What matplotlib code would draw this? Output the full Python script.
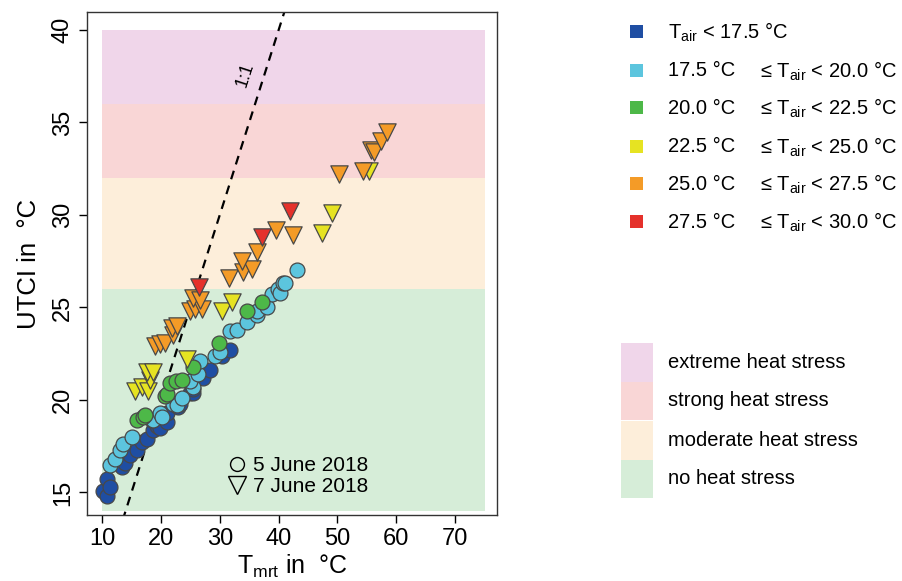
import matplotlib
matplotlib.use("Agg")
import matplotlib.pyplot as plt
from matplotlib.patches import Rectangle
from matplotlib.lines import Line2D

plt.rcParams['font.family'] = ['Liberation Sans', 'DejaVu Sans']
plt.rcParams['mathtext.fontset'] = 'custom'
plt.rcParams['mathtext.rm'] = 'Liberation Sans'
plt.rcParams['mathtext.it'] = 'Liberation Sans:italic'

# ---------------- data ----------------
# 5 June 2018 (circles)
jun5_cold_x = [10.2, 10.8, 10.8, 11.4, 13.4, 13.9, 14.8, 15.9, 16.8, 17.6, 18.7, 19.4, 19.9, 21.0, 21.0,
               22.9, 23.3, 24.9, 25.5, 25.5, 27.2, 28.4, 30.4, 31.8]
jun5_cold_y = [15.1, 15.7, 14.8, 15.3, 16.4, 16.6, 17.0, 17.3, 17.7, 17.9, 18.4, 18.6, 18.5, 18.8, 19.3,
               19.6, 19.8, 20.4, 20.4, 20.6, 21.2, 21.6, 22.4, 22.7]
jun5_cool_x = [11.4, 12.2, 13.1, 13.6, 15.1, 18.5, 18.7, 19.9, 20.2, 22.1, 22.7, 23.6, 25.5, 25.0, 26.3,
               26.7, 29.2, 30.0, 31.8, 32.9, 34.6, 36.3, 36.3, 38.0, 38.9, 39.9, 40.3, 40.8, 41.1, 43.1]
jun5_cool_y = [16.5, 16.8, 17.3, 17.6, 18.0, 18.9, 18.9, 19.3, 19.1, 19.8, 19.7, 20.1, 20.7, 21.0, 21.4,
               22.1, 22.4, 22.6, 23.7, 23.8, 24.2, 24.6, 24.8, 25.0, 25.7, 26.0, 25.8, 26.3, 26.3, 27.0]
jun5_mild_x = [15.9, 17.0, 17.3, 20.7, 21.0, 21.6, 22.5, 23.6, 25.5, 29.9, 34.6, 37.2]
jun5_mild_y = [18.9, 19.1, 19.2, 20.2, 20.3, 20.9, 21.0, 21.1, 21.8, 23.1, 24.8, 25.3]

# 7 June 2018 (triangles)
jun7_warm_x = [15.6, 16.8, 17.8, 18.2, 17.6, 18.7, 24.4, 30.4, 32.1, 47.4, 49.1, 55.4]
jun7_warm_y = [20.5, 20.7, 20.5, 21.1, 21.5, 21.5, 22.2, 24.8, 25.3, 29.0, 30.1, 32.4]
jun7_hot_x = [19.0, 19.9, 20.7, 22.1, 21.9, 22.7, 25.0, 25.8, 27.0, 25.5, 26.7, 31.6, 34.0, 35.5, 33.8,
              36.3, 39.6, 42.5, 50.3, 54.4, 55.7, 56.2, 57.4, 58.4]
jun7_hot_y = [22.9, 23.0, 23.1, 23.5, 23.9, 24.0, 24.8, 24.9, 24.9, 25.5, 25.4, 26.6, 26.9, 27.1, 27.5,
              28.0, 29.2, 28.9, 32.2, 32.4, 33.5, 33.4, 34.0, 34.5]
jun7_vhot_x = [26.5, 37.2, 42.0]
jun7_vhot_y = [26.1, 28.8, 30.2]

# categories / colours
tair_colors = ['#1f4ea3', '#5cc5de', '#4db848', '#e6e322', '#f49b27', '#e5312b']
tair_left = [None, '17.5 °C', '20.0 °C', '22.5 °C', '25.0 °C', '27.5 °C']
tair_right = ['T$_{\\mathrm{air}}$ < 17.5 °C', '≤ T$_{\\mathrm{air}}$ < 20.0 °C',
              '≤ T$_{\\mathrm{air}}$ < 22.5 °C', '≤ T$_{\\mathrm{air}}$ < 25.0 °C',
              '≤ T$_{\\mathrm{air}}$ < 27.5 °C', '≤ T$_{\\mathrm{air}}$ < 30.0 °C']

stress_labels = ['no heat stress', 'moderate heat stress', 'strong heat stress', 'extreme heat stress']
stress_lo = [14.0, 26, 32, 36]
stress_hi = [26, 32, 36, 40]
stress_colors = ['#d6edd8', '#fdeeda', '#f9d6d6', '#f0d6ea']
band_x = [10, 75]

# ---------------- figure ----------------
fig = plt.figure(figsize=(9.02, 5.81), dpi=100)
ax = fig.add_axes([0.0965, 0.1136, 0.4545, 0.8657])

for lo, hi, c in zip(stress_lo, stress_hi, stress_colors):
    ax.fill_between(band_x, [lo, lo], [hi, hi], color=c, lw=0, zorder=0)

# 1:1 line
ax.plot([13.5, 42], [13.5, 42], ls=(0, (4, 3)), color='black', lw=1.6, zorder=1)
ax.text(34.3, 37.6, '1:1', rotation=72, fontsize=13, ha='center', va='center')

ms = 115
ec = '#484848'
for xs, ys, c in [(jun5_cold_x, jun5_cold_y, tair_colors[0]),
                  (jun5_cool_x, jun5_cool_y, tair_colors[1]),
                  (jun5_mild_x, jun5_mild_y, tair_colors[2])]:
    ax.scatter(xs, ys, s=ms, c=c, edgecolors=ec, linewidths=0.9, marker='o', zorder=3)
for xs, ys, c in [(jun7_warm_x, jun7_warm_y, tair_colors[3]),
                  (jun7_hot_x, jun7_hot_y, tair_colors[4]),
                  (jun7_vhot_x, jun7_vhot_y, tair_colors[5])]:
    ax.scatter(xs, ys, s=155, c=c, edgecolors=ec, linewidths=0.9, marker='v', zorder=3)

ax.set_xlim(7.45, 77.1)
ax.set_ylim(13.78, 40.97)
ax.set_xticks([10, 20, 30, 40, 50, 60, 70])
ax.set_yticks([15, 20, 25, 30, 35, 40])
ax.tick_params(axis='both', direction='out', length=6, width=1, labelsize=17)
for lab in ax.get_yticklabels():
    lab.set_rotation(90)
    lab.set_va('center')
for s in ax.spines.values():
    s.set_linewidth(1.0)
    s.set_color('#333333')

ax.set_xlabel('T$_{\\mathrm{mrt}}$ in  °C', fontsize=18, labelpad=2)
ax.set_ylabel('UTCI in  °C', fontsize=18.5, labelpad=8)

# date legend inside plot
date_handles = [Line2D([], [], marker='o', ls='none', mfc='none', mec='black', ms=10, mew=1),
                Line2D([], [], marker='v', ls='none', mfc='none', mec='black', ms=13, mew=1)]
ax.legend(date_handles, ['5 June 2018', '7 June 2018'], loc='lower left',
          bbox_to_anchor=(0.29, 0.0), frameon=False, fontsize=15,
          handletextpad=0.15, labelspacing=0.1, handlelength=1.2)

# Tair legend (figure coordinates)
W, H = 902, 581
rows_y = [32, 71, 108, 147, 184, 222]
for i, yy in enumerate(rows_y):
    fig.patches.append(Rectangle((630 / W, 1 - (yy + 6) / H), 13 / W, 13 / H,
                                 transform=fig.transFigure, color=tair_colors[i], lw=0))
    if tair_left[i] is None:
        fig.text(668 / W, 1 - yy / H, tair_right[i], fontsize=14.5, va='center', ha='left')
    else:
        fig.text(668 / W, 1 - yy / H, tair_left[i], fontsize=14.5, va='center', ha='left')
        fig.text(760 / W, 1 - yy / H, tair_right[i], fontsize=14.5, va='center', ha='left')

# heat stress legend
stress_rows = [478, 440, 400, 362]
for lab, c, yy in zip(stress_labels, stress_colors, stress_rows):
    fig.patches.append(Rectangle((621 / W, 1 - (yy + 19.5) / H), 32 / W, 39 / H,
                                 transform=fig.transFigure, color=c, lw=0))
    fig.text(668 / W, 1 - yy / H, lab, fontsize=14.5, va='center', ha='left')

fig.savefig('out.png', dpi=100)
